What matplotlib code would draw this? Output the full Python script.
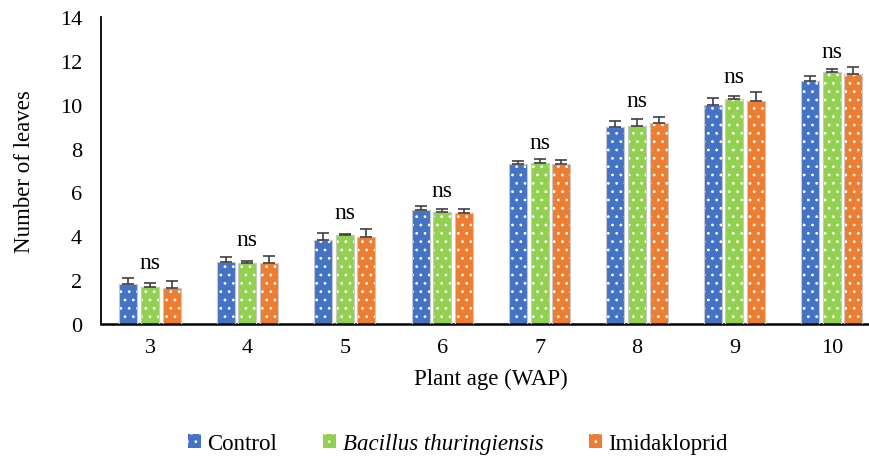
import numpy as np
import matplotlib.pyplot as plt

plt.rcParams['font.family'] = 'Liberation Serif'
plt.rcParams['hatch.color'] = 'white'
plt.rcParams['hatch.linewidth'] = 0.8

weeks = ["3", "4", "5", "6", "7", "8", "9", "10"]
control = [1.82, 2.82, 3.85, 5.22, 7.30, 8.96, 10.00, 11.07]
control_err = [0.26, 0.24, 0.31, 0.14, 0.15, 0.31, 0.29, 0.23]
bt = [1.67, 2.77, 4.08, 5.09, 7.35, 9.04, 10.25, 11.47]
bt_err = [0.18, 0.12, 0.03, 0.14, 0.18, 0.31, 0.15, 0.16]
imida = [1.62, 2.77, 3.97, 5.07, 7.30, 9.15, 10.19, 11.41]
imida_err = [0.32, 0.35, 0.38, 0.17, 0.18, 0.31, 0.38, 0.29]
sig_labels = ["ns"] * 8


def main() -> None:
    fig = plt.figure(figsize=(8.69, 4.6), dpi=100)
    ax = fig.add_axes([0.1166, 0.2935, 0.8966, 0.6675])

    x = np.arange(len(weeks))
    pitch = 0.222
    width = 0.185
    series = [
        (control, control_err, "#4472C4", "Control"),
        (bt, bt_err, "#92D050", "Bacillus thuringiensis"),
        (imida, imida_err, "#ED7D31", "Imidakloprid"),
    ]

    handles = []
    for i, (vals, errs, color, label) in enumerate(series):
        xs = x + (i - 1) * pitch
        h = ax.bar(xs, vals, width=width, color=color, hatch="..", linewidth=0, zorder=2)
        ax.bar(xs, vals, width=width, fill=False, edgecolor="#c8c8c8", linewidth=0.8, zorder=3)
        ax.errorbar(xs, vals, yerr=[np.zeros(len(errs)), errs], fmt="none",
                    ecolor="#404040", elinewidth=1.2, capsize=4, capthick=1.2, zorder=4)
        handles.append(h)

    tops = np.max([np.array(v) + np.array(e) for v, e, _, _ in series], axis=0)
    for xi, top, lab in zip(x, tops, sig_labels):
        ax.text(xi, top + 0.25, lab, ha="center", va="bottom", fontsize=17)

    ax.set_xlim(-0.5, len(weeks) - 0.5)
    ax.set_ylim(0, 14)
    ax.set_yticks(np.arange(0, 15, 2))
    ax.set_xticks(x)
    ax.set_xticklabels(weeks)
    ax.tick_params(axis="both", length=0, labelsize=16, pad=10)
    ax.tick_params(axis="y", pad=14)

    ax.set_xlabel("Plant age (WAP)", fontsize=16.5, labelpad=8)
    ax.set_ylabel("Number of leaves", fontsize=16.5, labelpad=18)

    ax.spines['top'].set_visible(False)
    ax.spines['right'].set_visible(False)
    ax.spines['left'].set_linewidth(1.3)
    ax.spines['bottom'].set_linewidth(1.8)

    leg = fig.legend(handles, [s[3] for s in series], loc="center", ncol=3,
                     bbox_to_anchor=(0.527, 1 - 445 / 460), frameon=False,
                     fontsize=16.5, handlelength=0.55, handleheight=0.55,
                     handletextpad=0.3, columnspacing=2.0)
    leg.get_texts()[1].set_fontstyle("italic")

    fig.savefig("out.png", dpi=100)


if __name__ == "__main__":
    main()
